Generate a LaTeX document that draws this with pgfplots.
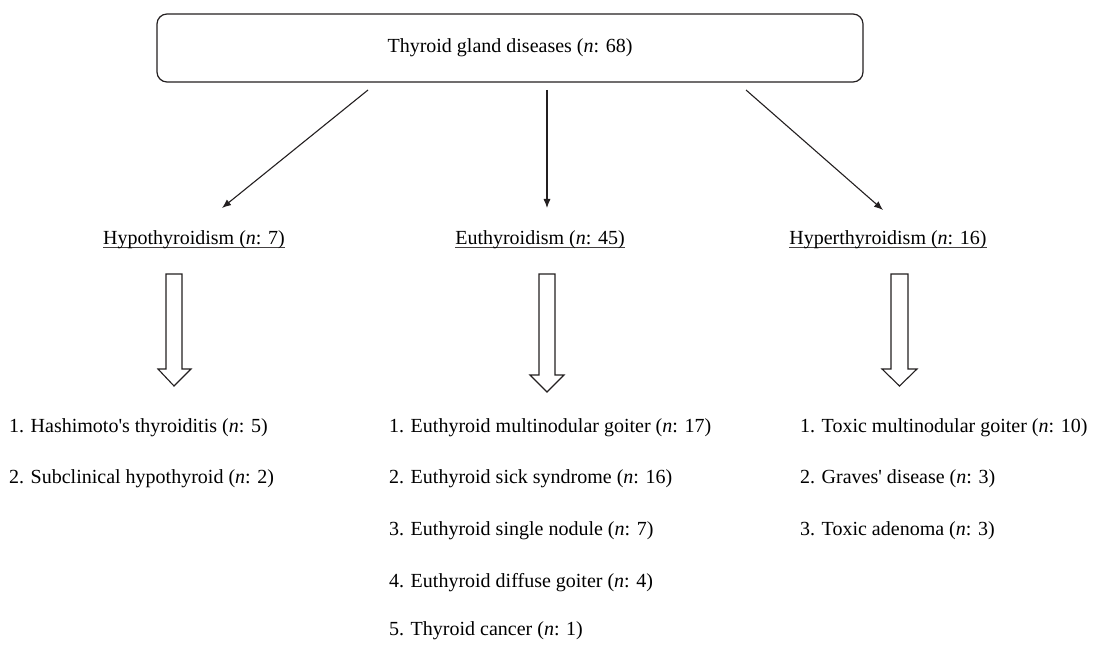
\documentclass[border=0pt]{standalone}
\usepackage{fontspec}
\setmainfont{Liberation Serif}
\usepackage{pgfplots}
\pgfplotsset{compat=1.18}
\usetikzlibrary{arrows.meta}
\definecolor{ink}{HTML}{231F20}
\newcommand\ul[1]{\setbox0\hbox{#1}\rlap{\color{ink!85}\rule[-1.3pt]{\wd0}{0.5pt}}\box0}
\newcommand\q{{\addfontfeatures{Ligatures=TeXOff}'}}
\begin{document}
\begin{tikzpicture}
\begin{axis}[scale only axis, width=548.5pt, height=320.5pt,
  xmin=0, xmax=1097, ymin=0, ymax=641, y dir=reverse,
  axis lines=none, clip=false,
  every node/.style={font=\fontsize{10.5}{12}\selectfont, text=ink, inner sep=0pt}]
% invisible frame
\addplot[draw=none] coordinates {(0,0) (1097,641)};
% top rounded box
\addplot[ink, line width=0.6pt, rounded corners=5pt] coordinates {(157,14) (863,14) (863,82) (157,82)} -- cycle;
\node[anchor=base] at (axis cs:510,53) {Thyroid gland diseases (\textit{n}: 68)};
% thin arrows
\addplot[ink, line width=0.55pt, -{Latex[length=4.5pt,width=3.6pt]}] coordinates {(368,90) (222,208)};
\addplot[ink, line width=0.55pt, -{Latex[length=4.5pt,width=3.6pt]}] coordinates {(547,90) (547,208)};
\addplot[ink, line width=0.55pt, -{Latex[length=4.5pt,width=3.6pt]}] coordinates {(746,90) (883,210)};
% middle level labels
\node[anchor=base] at (axis cs:194,245) {\ul{Hypothyroidism (\textit{n}: 7)}};
\node[anchor=base] at (axis cs:540,245) {\ul{Euthyroidism (\textit{n}: 45)}};
\node[anchor=base] at (axis cs:888,245) {\ul{Hyperthyroidism (\textit{n}: 16)}};
% hollow arrows
\addplot[ink, line width=0.55pt, fill=white] coordinates {(166,274) (182,274) (182,369) (191,369) (174,386) (158,369) (166,369)} -- cycle;
\addplot[ink, line width=0.55pt, fill=white] coordinates {(539,274) (555,274) (555,375) (564,375) (547,392) (530,375) (539,375)} -- cycle;
\addplot[ink, line width=0.55pt, fill=white] coordinates {(891,274) (908,274) (908,369) (917,369) (899.5,386) (882,369) (891,369)} -- cycle;
% lists
\node[anchor=base west] at (axis cs:2,433) {1. Hashimoto\q s thyroiditis (\textit{n}: 5)};
\node[anchor=base west] at (axis cs:2,484) {2. Subclinical hypothyroid (\textit{n}: 2)};
\node[anchor=base west] at (axis cs:382,433) {1. Euthyroid multinodular goiter (\textit{n}: 17)};
\node[anchor=base west] at (axis cs:382,484) {2. Euthyroid sick syndrome (\textit{n}: 16)};
\node[anchor=base west] at (axis cs:382,536) {3. Euthyroid single nodule (\textit{n}: 7)};
\node[anchor=base west] at (axis cs:382,588) {4. Euthyroid diffuse goiter (\textit{n}: 4)};
\node[anchor=base west] at (axis cs:382,635) {5. Thyroid cancer (\textit{n}: 1)};
\node[anchor=base west] at (axis cs:793,433) {1. Toxic multinodular goiter (\textit{n}: 10)};
\node[anchor=base west] at (axis cs:793,484) {2. Graves\q\ disease (\textit{n}: 3)};
\node[anchor=base west] at (axis cs:793,536) {3. Toxic adenoma (\textit{n}: 3)};
\end{axis}
\end{tikzpicture}
\end{document}
